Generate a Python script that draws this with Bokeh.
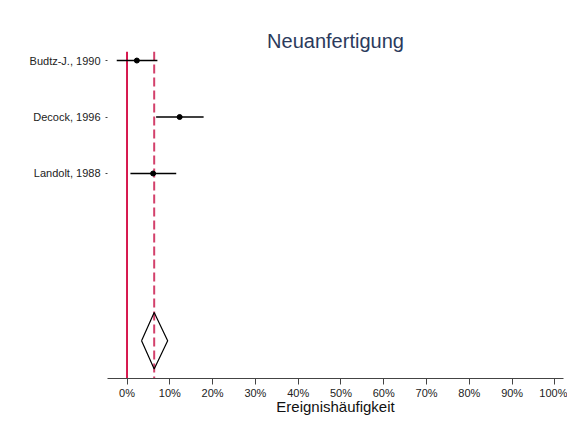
from bokeh.plotting import figure
from bokeh.models import Range1d, FixedTicker, Span, ColumnDataSource, NumeralTickFormatter
from bokeh.embed import file_html
from bokeh.resources import INLINE

studies = ["Budtz-J., 1990", "Decock, 1996", "Landolt, 1988"]
est = [0.023, 0.123, 0.061]
lower = [-0.024, 0.068, 0.008]
upper = [0.071, 0.179, 0.115]
pooled_est = 0.0635
pooled_lower = 0.034
pooled_upper = 0.095
x_ticks = [0, 0.1, 0.2, 0.3, 0.4, 0.5, 0.6, 0.7, 0.8, 0.9, 1.0]

rows = list(range(len(studies)))
pooled_row = 4.96

p = figure(width=567, height=418, output_backend="svg", toolbar_location=None,
           x_range=Range1d(-0.0456, 1.02), y_range=Range1d(5.63, -0.16),
           min_border_left=107, min_border_right=4, min_border_top=51, min_border_bottom=40,
           title="Neuanfertigung")
p.title.align = "center"
p.title.text_font = "Liberation Sans"
p.title.text_font_size = "20px"
p.title.text_font_style = "normal"
p.title.text_color = "#2b3a5c"
p.title.standoff = 0
p.outline_line_color = None
p.xgrid.visible = False
p.ygrid.visible = False

# reference lines (drawn beneath the study marks)
p.add_layout(Span(location=0, dimension="height", line_color="#d2003c", line_width=1.8,
                  level="underlay"))
p.add_layout(Span(location=pooled_est, dimension="height", line_color="#d3406b",
                  line_width=2, line_dash="9 4", level="underlay"))

src = ColumnDataSource(dict(y=rows, est=est, lo=lower, hi=upper))
p.segment(x0="lo", x1="hi", y0="y", y1="y", source=src, line_color="black", line_width=1.6)
p.scatter(x="est", y="y", source=src, size=5, color="black")

dx = [pooled_lower, pooled_est, pooled_upper, pooled_est, pooled_lower]
dy = [pooled_row, pooled_row - 0.5, pooled_row, pooled_row + 0.5, pooled_row]
p.line(x=dx, y=dy, line_color="black", line_width=1.2)

# x axis
xa = p.xaxis[0]
xa.ticker = FixedTicker(ticks=x_ticks)
xa.formatter = NumeralTickFormatter(format="0%")
xa.axis_label = "Ereignishäufigkeit"
xa.axis_label_text_font = "Liberation Sans"
xa.axis_label_text_font_size = "15px"
xa.axis_label_text_font_style = "normal"
xa.axis_label_text_color = "#111111"
xa.axis_label_standoff = -4
xa.major_label_text_font = "Liberation Sans"
xa.major_label_text_font_size = "11px"
xa.major_label_text_color = "#222222"
xa.major_label_standoff = 2
xa.major_tick_in = 0
xa.major_tick_out = 6
xa.minor_tick_in = 0
xa.minor_tick_out = 0
xa.axis_line_color = "#444444"
xa.major_tick_line_color = "#444444"

# y axis
ya = p.yaxis[0]
ya.ticker = FixedTicker(ticks=rows)
ya.major_label_overrides = {r: s for r, s in zip(rows, studies)}
ya.major_label_text_font = "Liberation Sans"
ya.major_label_text_font_size = "11px"
ya.major_label_text_color = "#222222"
ya.axis_line_color = None
ya.major_tick_in = 0
ya.major_tick_out = 2
ya.minor_tick_in = 0
ya.minor_tick_out = 0
ya.major_tick_line_color = "#444444"
ya.major_label_standoff = 5

open("out.html", "w").write(file_html(p, INLINE))
